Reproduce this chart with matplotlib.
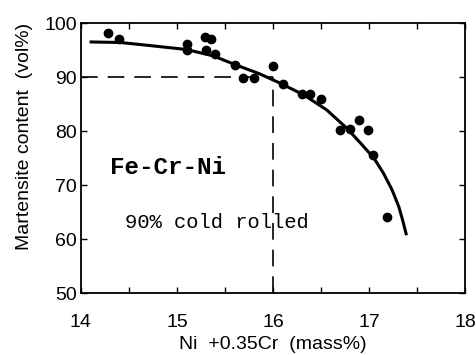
import numpy as np
import matplotlib
matplotlib.use('Agg')
import matplotlib.pyplot as plt
from matplotlib.ticker import MultipleLocator

# measured points: Ni + 0.35Cr (mass%) vs martensite content (vol%)
x_pts = [14.28, 14.40, 15.10, 15.10, 15.29, 15.35, 15.30, 15.40, 15.60, 15.69, 15.80,
         16.00, 16.10, 16.30, 16.39, 16.50, 16.70, 16.80, 16.90, 16.99, 17.04, 17.19]
y_pts = [98.1, 97.0, 96.2, 95.0, 97.5, 97.0, 95.0, 94.2, 92.2, 89.8, 89.8,
         92.1, 88.8, 86.9, 86.9, 85.9, 80.1, 80.4, 82.0, 80.1, 75.6, 64.0]

# fitted curve
x_fit = [14.09, 14.41, 14.68, 15.10, 15.38, 15.62, 15.86, 16.07, 16.32, 16.56,
         16.77, 16.92, 17.05, 17.15, 17.24, 17.31, 17.35, 17.39]
y_fit = [96.5, 96.4, 95.9, 95.1, 93.9, 92.2, 90.6, 88.9, 86.7, 83.9,
         80.5, 77.6, 75.0, 72.2, 69.1, 66.0, 63.5, 60.7]

x_ticks = [14, 15, 16, 17, 18]
y_ticks = [50, 60, 70, 80, 90, 100]

plt.rcParams['font.family'] = ['Liberation Sans', 'DejaVu Sans']

fig = plt.figure(figsize=(4.76, 3.55), dpi=100)
ax = fig.add_axes([0.170, 0.1746, 0.807, 0.7605])

# guide lines at 90 vol% / 16 mass%
ax.plot([14, 16], [90, 90], color='black', lw=1.2, linestyle=(0, (10, 6)))
ax.plot([16, 16], [50, 90], color='black', lw=1.2, linestyle=(0, (10, 6)))

ax.plot(x_fit, y_fit, color='black', lw=2.2, solid_capstyle='butt',
        solid_joinstyle='round')
ax.plot(x_pts, y_pts, 'o', color='black', markersize=6)

ax.text(14.30, 73.3, 'Fe-Cr-Ni', family='Liberation Mono', fontweight='bold',
        fontsize=17.5, va='center', ha='left')
ax.text(14.46, 63.1, '90% cold rolled', family='Liberation Mono',
        fontsize=14.8, va='center', ha='left')

ax.set_xlim(14, 18)
ax.set_ylim(50, 100)
ax.set_xticks(x_ticks)
ax.set_yticks(y_ticks)
ax.xaxis.set_minor_locator(MultipleLocator(0.5))
ax.tick_params(which='both', direction='in', top=True, right=True,
               length=4.5, width=1.0)
ax.tick_params(axis='x', which='major', pad=15, labelsize=14)
ax.tick_params(axis='y', pad=3, labelsize=14)
for s in ax.spines.values():
    s.set_linewidth(1.3)

ax.set_xlabel('Ni  +0.35Cr  (mass%)', fontsize=14, labelpad=3.5)
ax.set_ylabel('Martensite content  (vol%)', fontsize=14, labelpad=4)
ax.yaxis.set_label_coords(-0.125, 0.58)

fig.savefig('out.png', dpi=100)
